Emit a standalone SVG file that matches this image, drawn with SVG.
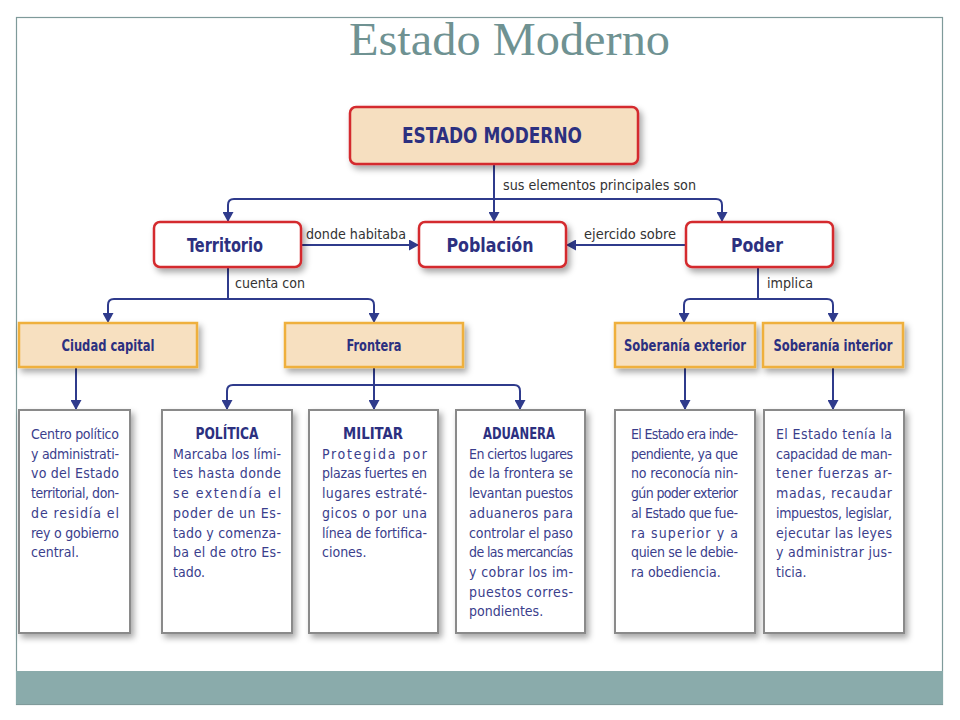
<svg xmlns="http://www.w3.org/2000/svg" width="960" height="720" viewBox="0 0 960 720">
<defs>
<filter id="sh" x="-20%" y="-20%" width="140%" height="150%">
<feDropShadow dx="3" dy="4" stdDeviation="3" flood-color="#000" flood-opacity="0.35"/>
</filter>
<marker id="ah" markerUnits="userSpaceOnUse" markerWidth="11" markerHeight="11" refX="10" refY="5.5" orient="auto">
<path d="M0,0 L10,5.5 L0,11 z" fill="#2f3b8c"/>
</marker>
<style>
.title{font-family:"Liberation Serif","Times New Roman",serif;font-size:46px;fill:#6f9292}
.main{fill:#f6dfc0;stroke:#d42a2e;stroke-width:2.5}
.red{fill:#ffffff;stroke:#d42a2e;stroke-width:2.5}
.org{fill:#f7e0c0;stroke:#efb03c;stroke-width:2.5}
.det{fill:#ffffff;stroke:#8a8a8a;stroke-width:2}
.nt{font-family:"Liberation Sans Narrow","DejaVu Sans Condensed","Liberation Sans",Arial,sans-serif;font-weight:bold;fill:#2c3080;text-anchor:middle}
.lb{font-family:"Liberation Sans Narrow","DejaVu Sans Condensed","Liberation Sans",Arial,sans-serif;font-size:14px;fill:#333}
.bt{font-family:"Liberation Sans Narrow","DejaVu Sans Condensed","Liberation Sans",Arial,sans-serif;font-size:14px;fill:#3a3e8c}
.hd{font-family:"Liberation Sans Narrow","DejaVu Sans Condensed","Liberation Sans",Arial,sans-serif;font-size:15px;font-weight:bold;fill:#2c3080;text-anchor:middle}
.cn{fill:none;stroke:#2f3b8c;stroke-width:2}
</style>
</defs>
<rect x="0" y="0" width="960" height="720" fill="#ffffff"/>
<rect x="16.5" y="17.5" width="926" height="687" fill="#ffffff" stroke="#7f9a9a" stroke-width="1.2"/>
<rect x="16" y="671" width="927" height="33" fill="#8aabab"/>
<text class="title" x="349" y="55" textLength="321" lengthAdjust="spacingAndGlyphs">Estado Moderno</text>

<g id="connectors">
<path class="cn" d="M494,164 V222" marker-end="url(#ah)"/>
<path class="cn" d="M494,199 H234 Q228,199 228,205 V222" marker-end="url(#ah)"/>
<path class="cn" d="M494,199 H716 Q722,199 722,205 V222" marker-end="url(#ah)"/>
<path class="cn" d="M301,245 H419" marker-end="url(#ah)"/>
<path class="cn" d="M686,245 H566" marker-end="url(#ah)"/>
<path class="cn" d="M228,267 V299"/>
<path class="cn" d="M228,299 H114 Q108,299 108,305 V323" marker-end="url(#ah)"/>
<path class="cn" d="M228,299 H368 Q374,299 374,305 V323" marker-end="url(#ah)"/>
<path class="cn" d="M758,267 V299"/>
<path class="cn" d="M758,299 H690 Q684,299 684,305 V323" marker-end="url(#ah)"/>
<path class="cn" d="M758,299 H827 Q833,299 833,305 V323" marker-end="url(#ah)"/>
<path class="cn" d="M76,367 V410" marker-end="url(#ah)"/>
<path class="cn" d="M374,367 V410" marker-end="url(#ah)"/>
<path class="cn" d="M374,385 H233 Q227,385 227,391 V410" marker-end="url(#ah)"/>
<path class="cn" d="M374,385 H514 Q520,385 520,391 V410" marker-end="url(#ah)"/>
<path class="cn" d="M685,367 V410" marker-end="url(#ah)"/>
<path class="cn" d="M833,367 V410" marker-end="url(#ah)"/>
<text class="lb" x="503" y="190" textLength="193" lengthAdjust="spacingAndGlyphs">sus elementos principales son</text>
<text class="lb" x="306" y="239" textLength="100" lengthAdjust="spacingAndGlyphs">donde habitaba</text>
<text class="lb" x="584" y="239" textLength="92" lengthAdjust="spacingAndGlyphs">ejercido sobre</text>
<text class="lb" x="235" y="288" textLength="70" lengthAdjust="spacingAndGlyphs">cuenta con</text>
<text class="lb" x="767" y="288" textLength="46" lengthAdjust="spacingAndGlyphs">implica</text>
</g>

<g id="n-estado">
<rect class="main" x="350" y="107" width="288" height="57" rx="6" filter="url(#sh)"/>
<text class="nt" x="492" y="143" font-size="21" textLength="180" lengthAdjust="spacingAndGlyphs">ESTADO MODERNO</text>
</g>
<g id="n-territorio">
<rect class="red" x="154" y="222" width="147" height="45" rx="6" filter="url(#sh)"/>
<text class="nt" x="225" y="252" font-size="19" textLength="76" lengthAdjust="spacingAndGlyphs">Territorio</text>
</g>
<g id="n-poblacion">
<rect class="red" x="419" y="222" width="147" height="45" rx="6" filter="url(#sh)"/>
<text class="nt" x="490" y="252" font-size="19" textLength="87" lengthAdjust="spacingAndGlyphs">Población</text>
</g>
<g id="n-poder">
<rect class="red" x="686" y="222" width="147" height="45" rx="6" filter="url(#sh)"/>
<text class="nt" x="757" y="252" font-size="19" textLength="52" lengthAdjust="spacingAndGlyphs">Poder</text>
</g>

<g id="n-ciudad">
<rect class="org" x="19" y="323" width="178" height="44" filter="url(#sh)"/>
<text class="nt" x="108" y="351" font-size="16" textLength="93" lengthAdjust="spacingAndGlyphs">Ciudad capital</text>
</g>
<g id="n-frontera">
<rect class="org" x="285" y="323" width="178" height="44" filter="url(#sh)"/>
<text class="nt" x="374" y="351" font-size="16" textLength="55" lengthAdjust="spacingAndGlyphs">Frontera</text>
</g>
<g id="n-sobext">
<rect class="org" x="615" y="323" width="140" height="44" filter="url(#sh)"/>
<text class="nt" x="685" y="351" font-size="16" textLength="122" lengthAdjust="spacingAndGlyphs">Soberanía exterior</text>
</g>
<g id="n-sobint">
<rect class="org" x="763" y="323" width="140" height="44" filter="url(#sh)"/>
<text class="nt" x="833" y="351" font-size="16" textLength="119" lengthAdjust="spacingAndGlyphs">Soberanía interior</text>
</g>

<g id="n-centro">
<rect class="det" x="19" y="410" width="111" height="223" filter="url(#sh)"/>
<text class="bt" x="31" y="439" textLength="88" lengthAdjust="spacing">Centro político</text>
<text class="bt" x="31" y="458.7" textLength="88" lengthAdjust="spacing">y administrati-</text>
<text class="bt" x="31" y="478.4" textLength="88" lengthAdjust="spacing">vo del Estado</text>
<text class="bt" x="31" y="498.1" textLength="88" lengthAdjust="spacing">territorial, don-</text>
<text class="bt" x="31" y="517.8" textLength="88" lengthAdjust="spacing">de residía el</text>
<text class="bt" x="31" y="537.5" textLength="88" lengthAdjust="spacing">rey o gobierno</text>
<text class="bt" x="31" y="557.2">central.</text>
</g>
<g id="n-politica">
<rect class="det" x="162" y="410" width="130" height="223" filter="url(#sh)"/>
<text class="hd" x="227" y="439" textLength="63" lengthAdjust="spacingAndGlyphs">POLÍTICA</text>
<text class="bt" x="173" y="458.7" textLength="108" lengthAdjust="spacing">Marcaba los lími-</text>
<text class="bt" x="173" y="478.4" textLength="108" lengthAdjust="spacing">tes hasta donde</text>
<text class="bt" x="173" y="498.1" textLength="108" lengthAdjust="spacing">se extendía el</text>
<text class="bt" x="173" y="517.8" textLength="108" lengthAdjust="spacing">poder de un Es-</text>
<text class="bt" x="173" y="537.5" textLength="108" lengthAdjust="spacing">tado y comenza-</text>
<text class="bt" x="173" y="557.2" textLength="108" lengthAdjust="spacing">ba el de otro Es-</text>
<text class="bt" x="173" y="576.9">tado.</text>
</g>
<g id="n-militar">
<rect class="det" x="309" y="410" width="129" height="223" filter="url(#sh)"/>
<text class="hd" x="373" y="439" textLength="60" lengthAdjust="spacingAndGlyphs">MILITAR</text>
<text class="bt" x="322" y="458.7" textLength="105" lengthAdjust="spacing">Protegida por</text>
<text class="bt" x="322" y="478.4" textLength="105" lengthAdjust="spacing">plazas fuertes en</text>
<text class="bt" x="322" y="498.1" textLength="105" lengthAdjust="spacing">lugares estraté-</text>
<text class="bt" x="322" y="517.8" textLength="105" lengthAdjust="spacing">gicos o por una</text>
<text class="bt" x="322" y="537.5" textLength="105" lengthAdjust="spacing">línea de fortifica-</text>
<text class="bt" x="322" y="557.2">ciones.</text>
</g>
<g id="n-aduanera">
<rect class="det" x="456" y="410" width="129" height="223" filter="url(#sh)"/>
<text class="hd" x="519" y="439" textLength="72" lengthAdjust="spacingAndGlyphs">ADUANERA</text>
<text class="bt" x="469" y="458.7" textLength="104" lengthAdjust="spacing">En ciertos lugares</text>
<text class="bt" x="469" y="478.4" textLength="104" lengthAdjust="spacing">de la frontera se</text>
<text class="bt" x="469" y="498.1" textLength="104" lengthAdjust="spacing">levantan puestos</text>
<text class="bt" x="469" y="517.8" textLength="104" lengthAdjust="spacing">aduaneros para</text>
<text class="bt" x="469" y="537.5" textLength="104" lengthAdjust="spacing">controlar el paso</text>
<text class="bt" x="469" y="557.2" textLength="104" lengthAdjust="spacing">de las mercancías</text>
<text class="bt" x="469" y="576.9" textLength="104" lengthAdjust="spacing">y cobrar los im-</text>
<text class="bt" x="469" y="596.6" textLength="104" lengthAdjust="spacing">puestos corres-</text>
<text class="bt" x="469" y="616.3">pondientes.</text>
</g>
<g id="n-exterior">
<rect class="det" x="615" y="410" width="140" height="223" filter="url(#sh)"/>
<text class="bt" x="631" y="439" textLength="107" lengthAdjust="spacing">El Estado era inde-</text>
<text class="bt" x="631" y="458.7" textLength="107" lengthAdjust="spacing">pendiente, ya que</text>
<text class="bt" x="631" y="478.4" textLength="107" lengthAdjust="spacing">no reconocía nin-</text>
<text class="bt" x="631" y="498.1" textLength="107" lengthAdjust="spacing">gún poder exterior</text>
<text class="bt" x="631" y="517.8" textLength="107" lengthAdjust="spacing">al Estado que fue-</text>
<text class="bt" x="631" y="537.5" textLength="107" lengthAdjust="spacing">ra superior y a</text>
<text class="bt" x="631" y="557.2" textLength="107" lengthAdjust="spacing">quien se le debie-</text>
<text class="bt" x="631" y="576.9">ra obediencia.</text>
</g>
<g id="n-interior">
<rect class="det" x="764" y="410" width="140" height="223" filter="url(#sh)"/>
<text class="bt" x="776" y="439" textLength="116" lengthAdjust="spacing">El Estado tenía la</text>
<text class="bt" x="776" y="458.7" textLength="116" lengthAdjust="spacing">capacidad de man-</text>
<text class="bt" x="776" y="478.4" textLength="116" lengthAdjust="spacing">tener fuerzas ar-</text>
<text class="bt" x="776" y="498.1" textLength="116" lengthAdjust="spacing">madas, recaudar</text>
<text class="bt" x="776" y="517.8" textLength="116" lengthAdjust="spacing">impuestos, legislar,</text>
<text class="bt" x="776" y="537.5" textLength="116" lengthAdjust="spacing">ejecutar las leyes</text>
<text class="bt" x="776" y="557.2" textLength="116" lengthAdjust="spacing">y administrar jus-</text>
<text class="bt" x="776" y="576.9">ticia.</text>
</g>
</svg>
